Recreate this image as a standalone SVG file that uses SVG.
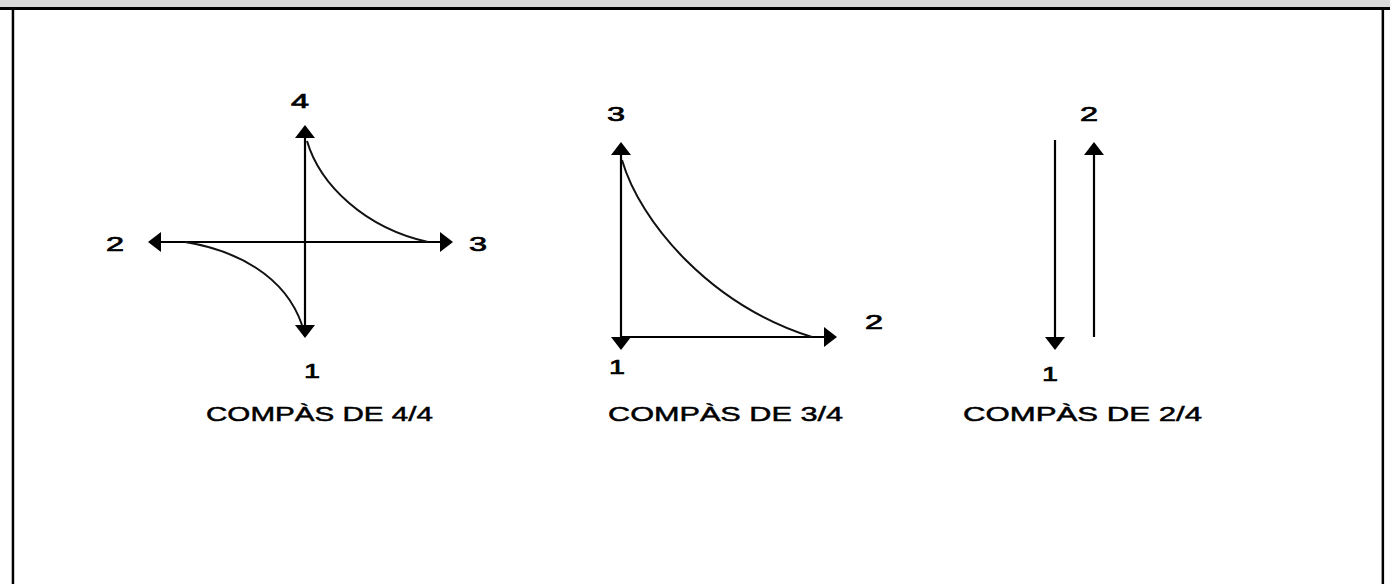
<svg xmlns="http://www.w3.org/2000/svg" width="1390" height="584" viewBox="0 0 1390 584">
  <style>
    .ln { stroke: #000; stroke-width: 2.2; fill: none; }
    .cv { stroke: #111; stroke-width: 2; fill: none; }
    .num { font-family: "Liberation Sans", Arial, sans-serif; font-size: 20px; fill: #000; stroke: #000; stroke-width: 0.7; text-anchor: middle; }
    .cap { font-family: "Liberation Sans", Arial, sans-serif; font-size: 21px; fill: #000; stroke: #000; stroke-width: 0.5; text-anchor: middle; }
  </style>
  <defs>
    <marker id="ah" viewBox="0 0 13 20" refX="11" refY="10" markerWidth="13" markerHeight="20" markerUnits="userSpaceOnUse" orient="auto-start-reverse">
      <path d="M0,0 L13,10 L0,20 Z" fill="#000"/>
    </marker>
  </defs>
  <rect x="0" y="0" width="1390" height="584" fill="#fff"/>
  <g id="frame">
    <rect x="0" y="0" width="1390" height="7" fill="#d9d9d9"/>
    <rect x="0" y="7" width="1390" height="3" fill="#000"/>
    <rect x="11.7" y="10" width="2.5" height="574" fill="#000"/>
    <rect x="1381.6" y="10" width="2.5" height="574" fill="#000"/>
  </g>
  <g id="connectors">
    <!-- 4/4 -->
    <line class="ln" x1="305" y1="127" x2="305" y2="336" marker-start="url(#ah)" marker-end="url(#ah)"/>
    <line class="ln" x1="150" y1="242" x2="451" y2="242" marker-start="url(#ah)" marker-end="url(#ah)"/>
    <path class="cv" d="M307,141 C320,185 365,228 428,242"/>
    <path class="cv" d="M185,242 C235,250 285,275 302,325"/>
    <!-- 3/4 -->
    <line class="ln" x1="621" y1="144" x2="621" y2="348" marker-start="url(#ah)" marker-end="url(#ah)"/>
    <line class="ln" x1="621" y1="337" x2="835" y2="337" marker-end="url(#ah)"/>
    <path class="cv" d="M622,160 C640,222 710,305 812,337"/>
    <!-- 2/4 -->
    <line class="ln" x1="1055" y1="140" x2="1055" y2="348" marker-end="url(#ah)"/>
    <line class="ln" x1="1094" y1="337" x2="1094" y2="144" marker-end="url(#ah)"/>
  </g>
  <g id="compas-4-4">
    <text class="num" x="300" y="108" textLength="18" lengthAdjust="spacingAndGlyphs">4</text>
    <text class="num" x="115" y="251" textLength="18" lengthAdjust="spacingAndGlyphs">2</text>
    <text class="num" x="478" y="251" textLength="18" lengthAdjust="spacingAndGlyphs">3</text>
    <text class="num" x="312" y="378" textLength="16" lengthAdjust="spacingAndGlyphs">1</text>
    <text class="cap" x="319.5" y="421" textLength="227" lengthAdjust="spacingAndGlyphs">COMPÀS DE 4/4</text>
  </g>
  <g id="compas-3-4">
    <text class="num" x="616" y="121" textLength="18" lengthAdjust="spacingAndGlyphs">3</text>
    <text class="num" x="874" y="329" textLength="18" lengthAdjust="spacingAndGlyphs">2</text>
    <text class="num" x="617" y="374" textLength="16" lengthAdjust="spacingAndGlyphs">1</text>
    <text class="cap" x="725.5" y="421" textLength="235" lengthAdjust="spacingAndGlyphs">COMPÀS DE 3/4</text>
  </g>
  <g id="compas-2-4">
    <text class="num" x="1089" y="121" textLength="18" lengthAdjust="spacingAndGlyphs">2</text>
    <text class="num" x="1050" y="381" textLength="16" lengthAdjust="spacingAndGlyphs">1</text>
    <text class="cap" x="1082.5" y="421" textLength="239" lengthAdjust="spacingAndGlyphs">COMPÀS DE 2/4</text>
  </g>
</svg>
